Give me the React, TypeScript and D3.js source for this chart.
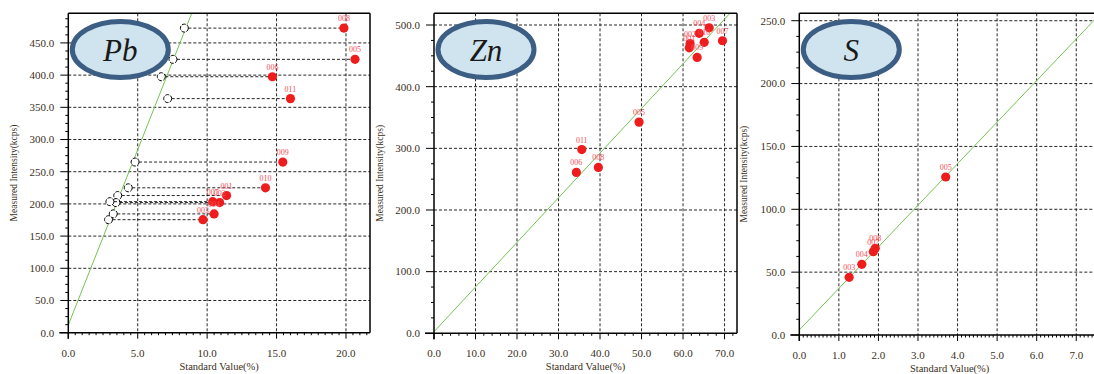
import React from "react";
import * as d3 from "d3";

// ---- data ----
const PB_LABELS = ["008", "005", "006", "011", "009", "010", "001", "002", "007", "004", "003"];
const PB_STD = [19.85, 20.65, 14.7, 16.0, 15.45, 14.2, 11.4, 10.9, 10.4, 10.5, 9.7];
const PB_MEAS = [473, 424.5, 397.5, 363.5, 265, 225, 213, 202, 203.5, 184.5, 175.5];
const PB_CALC = [8.36, 7.54, 6.7, 7.16, 4.81, 4.32, 3.56, 3.44, 3.0, 3.24, 2.9];
const PB_LINE: [number, number][] = [[0, 12], [8.89, 496]];

const ZN_LABELS = ["003", "004", "010", "007", "002", "001", "009", "005", "011", "008", "006"];
const ZN_STD = [66.3, 63.9, 65.1, 69.5, 61.7, 61.5, 63.4, 49.4, 35.6, 39.6, 34.3];
const ZN_MEAS = [495.5, 486.5, 472, 474.5, 470, 463, 447.5, 342.5, 298, 269, 261];
const ZN_LINE: [number, number][] = [[0, 2.6], [71.3, 519]];

const S_LABELS = ["005", "008", "007", "004", "003"];
const S_STD = [3.7, 1.92, 1.87, 1.58, 1.26];
const S_MEAS = [125.7, 69, 66.3, 56.2, 45.9];
const S_LINE: [number, number][] = [[0, 4], [7.6, 255.3]];

const PB_XTICKS = [0, 5, 10, 15, 20];
const PB_YTICKS = [0, 50, 100, 150, 200, 250, 300, 350, 400, 450];
const ZN_XTICKS = [0, 10, 20, 30, 40, 50, 60, 70];
const ZN_YTICKS = [0, 100, 200, 300, 400, 500];
const S_XTICKS = [0, 1, 2, 3, 4, 5, 6, 7];
const S_YTICKS = [0, 50, 100, 150, 200, 250];

const X_TITLE = "Standard Value(%)";
const Y_TITLE = "Measured Intensity(kcps)";

interface Panel {
  name: string;
  labels: string[]; std: number[]; meas: number[]; calc?: number[];
  line: [number, number][];
  xDomain: [number, number]; yDomain: [number, number];
  xTicks: number[]; yTicks: number[]; xMinor: number; yMinor: number;
  box: { l: number; r: number; t: number; b: number; border: boolean; yTitleX: number };
}

const PANELS: Panel[] = [
  { name: "Pb", labels: PB_LABELS, std: PB_STD, meas: PB_MEAS, calc: PB_CALC, line: PB_LINE,
    xDomain: [0, 21.73], yDomain: [0, 496], xTicks: PB_XTICKS, yTicks: PB_YTICKS, xMinor: 0.5, yMinor: 12.5,
    box: { l: 68.3, r: 370, t: 13.3, b: 332.7, border: true, yTitleX: 17 } },
  { name: "Zn", labels: ZN_LABELS, std: ZN_STD, meas: ZN_MEAS, line: ZN_LINE,
    xDomain: [0, 73], yDomain: [0, 519], xTicks: ZN_XTICKS, yTicks: ZN_YTICKS, xMinor: 2, yMinor: 25,
    box: { l: 434, r: 737, t: 13.3, b: 333.3, border: true, yTitleX: 383 } },
  { name: "S", labels: S_LABELS, std: S_STD, meas: S_MEAS, line: S_LINE,
    xDomain: [0, 7.6], yDomain: [0, 255.9], xTicks: S_XTICKS, yTicks: S_YTICKS, xMinor: 0.1, yMinor: 12.5,
    box: { l: 799.3, r: 1100, t: 13.3, b: 335, border: false, yTitleX: 747 } },
];

const SERIF = "Liberation Serif, DejaVu Serif, serif";
const TXT = "#3b2f22";

function minorTicks(domain: [number, number], step: number, major: number[]) {
  const out: number[] = [];
  for (let i = 0; i * step <= domain[1] + 1e-9; i++) {
    const v = +(i * step).toFixed(4);
    if (!major.some(m => Math.abs(m - v) < 1e-6)) out.push(v);
  }
  return out;
}

function PanelView({ p }: { p: Panel }) {
  const { l, r, t, b } = p.box;
  const x = d3.scaleLinear().domain(p.xDomain).range([l, r]);
  const y = d3.scaleLinear().domain(p.yDomain).range([b, t]);
  const clipId = `clip-${p.name}`;
  const xm = minorTicks(p.xDomain, p.xMinor, p.xTicks);
  const ym = minorTicks(p.yDomain, p.yMinor, p.yTicks);
  const line = d3.line<[number, number]>().x(d => x(d[0])).y(d => y(d[1]));
  const cx = (l + r) / 2;
  const cy = (t + b) / 2;
  const serif = { fontFamily: SERIF };
  return (
    <g>
      <defs>
        <clipPath id={clipId}><rect x={l} y={t} width={r - l} height={b - t} /></clipPath>
      </defs>
      {/* grid */}
      <g stroke="#000" strokeWidth={1} strokeDasharray="3,2" opacity={0.85}>
        {p.yTicks.filter(v => v > 0).map(v => (
          <line key={"gy" + v} x1={l} x2={r} y1={y(v)} y2={y(v)} />
        ))}
        {p.xTicks.filter(v => v > 0).map(v => (
          <line key={"gx" + v} x1={x(v)} x2={x(v)} y1={t} y2={b} />
        ))}
      </g>
      {/* calibration line */}
      <path d={line(p.line) || ""} fill="none" stroke="#74c452" strokeWidth={1} clipPath={`url(#${clipId})`} />
      {/* projections */}
      {p.calc && p.calc.map((c, i) => (
        <g key={"c" + i}>
          <line x1={x(c) + 4} x2={x(p.std[i])} y1={y(p.meas[i])} y2={y(p.meas[i])}
            stroke="#000" strokeWidth={1} strokeDasharray="3,2" opacity={0.85} />
          <circle cx={x(c)} cy={y(p.meas[i])} r={4} fill="#fff" stroke="#000" strokeWidth={1} strokeDasharray="4,1.3" />
        </g>
      ))}
      {/* measured points */}
      {p.std.map((s, i) => (
        <g key={"p" + i}>
          <circle cx={x(s)} cy={y(p.meas[i])} r={4.6} fill="#ee1c1c" />
          <text x={x(s)} y={y(p.meas[i]) - 7} textAnchor="middle" fontSize={8}
            style={serif} fill="#f4505a">{p.labels[i]}</text>
        </g>
      ))}
      {/* frame */}
      <line x1={l} x2={r} y1={t} y2={t} stroke="#000" strokeWidth={1.5} />
      {p.box.border && <line x1={r} x2={r} y1={t} y2={b} stroke="#000" strokeWidth={1.5} />}
      <line x1={l} x2={l} y1={t} y2={b + 6} stroke="#000" strokeWidth={1.5} />
      <line x1={l - 9} x2={r} y1={b} y2={b} stroke="#000" strokeWidth={1.5} />
      {/* y ticks */}
      {p.yTicks.map(v => (
        <g key={"yt" + v}>
          <line x1={l - 8} x2={l} y1={y(v)} y2={y(v)} stroke="#000" strokeWidth={1} />
          <text x={l - 14} y={y(v)} dy="0.35em" textAnchor="end" fontSize={11} style={serif} fill={TXT}>{v.toFixed(1)}</text>
        </g>
      ))}
      {ym.map(v => (
        <line key={"ym" + v} x1={l - 3} x2={l} y1={y(v)} y2={y(v)} stroke="#000" strokeWidth={1} />
      ))}
      {/* x ticks */}
      {p.xTicks.map(v => (
        <g key={"xt" + v}>
          <line x1={x(v)} x2={x(v)} y1={b} y2={b + 6} stroke="#000" strokeWidth={1} />
          <text x={x(v)} y={b + 24} textAnchor="middle" fontSize={11} style={serif} fill={TXT}>{v.toFixed(1)}</text>
        </g>
      ))}
      {xm.filter(v => x(v) <= r).map(v => (
        <line key={"xm" + v} x1={x(v)} x2={x(v)} y1={b} y2={b + 2.5} stroke="#000" strokeWidth={1} />
      ))}
      {/* titles */}
      <text x={cx} y={b + 37} textAnchor="middle" fontSize={10.5} style={serif} fill={TXT}>{X_TITLE}</text>
      <text transform={`translate(${p.box.yTitleX},${cy}) rotate(-90)`} textAnchor="middle" fontSize={9.5}
        style={serif} fill={TXT}>{Y_TITLE}</text>
      {/* element badge */}
      <ellipse cx={l + 52} cy={49.5} rx={48} ry={28} fill="#cfe4ee" stroke="#3c5d84" strokeWidth={5} />
      <text x={l + 52} y={61} textAnchor="middle" fontSize={31} fontStyle="italic" style={serif} fill="#1a1a1a">{p.name}</text>
    </g>
  );
}

export default function App() {
  return (
    <svg width={1094} height={374} style={{ position: "absolute", left: 0, top: 0, background: "#fff" }}>
      <rect width={1094} height={374} fill="#fff" />
      {PANELS.map(p => <PanelView key={p.name} p={p} />)}
    </svg>
  );
}
